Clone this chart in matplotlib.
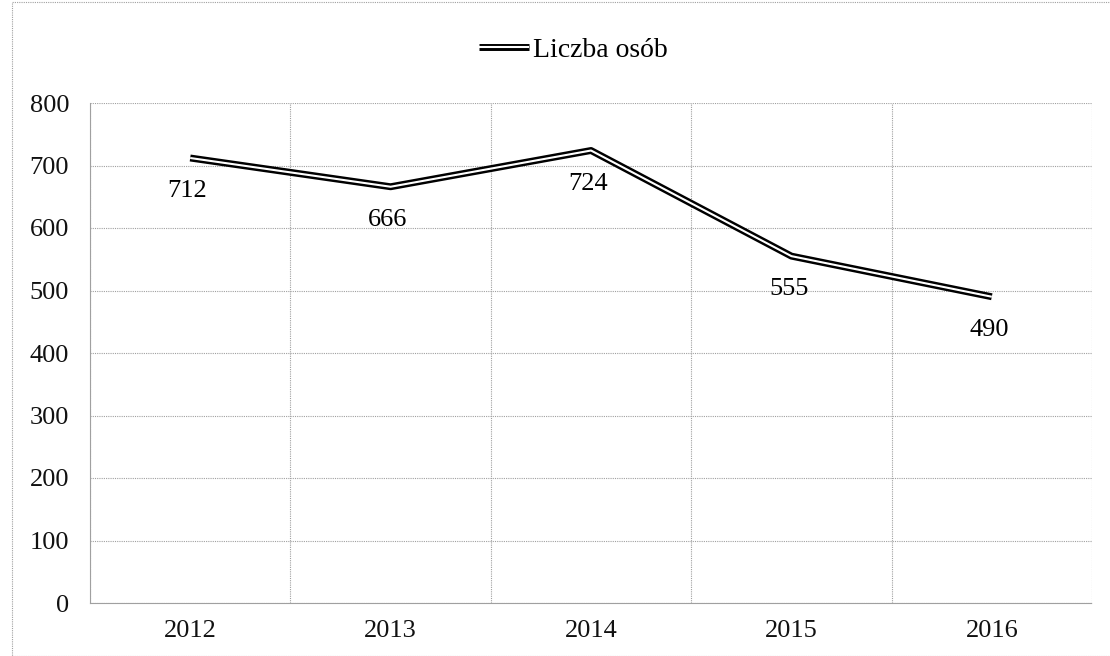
import matplotlib
matplotlib.use("Agg")
import matplotlib.pyplot as plt
import matplotlib.patheffects as pe
from matplotlib.patches import Rectangle

plt.rcParams['font.family'] = ['Liberation Serif', 'DejaVu Serif']

years = ['2012', '2013', '2014', '2015', '2016']
values = [712, 666, 724, 555, 490]
series_name = 'Liczba osób'

fig = plt.figure(figsize=(11.1, 6.56), dpi=100, facecolor='white')
ax = fig.add_axes([90 / 1110, 1 - 603 / 656, 1002 / 1110, 500 / 656])

xs = [i + 0.5 for i in range(len(years))]
# double line: thick black under thin white
line, = ax.plot(xs, values, color='white', lw=1.5, solid_capstyle='butt',
                path_effects=[pe.Stroke(linewidth=5.0, foreground='black'), pe.Normal()],
                label=series_name, zorder=3)

for x, v in zip(xs, values):
    ax.annotate(str(v), (x, v), xytext=(-2, -24), textcoords='offset points',
                ha='center', va='center', fontsize=19)

ax.set_xlim(0, len(years))
ax.set_ylim(0, 800)
ax.set_yticks(range(0, 801, 100))
ax.set_xticks(range(len(years) + 1), minor=False)
ax.set_xticklabels([])
ax.set_xticks(xs, minor=True)
ax.set_xticklabels(years, minor=True)
ax.tick_params(axis='both', which='both', length=0, labelsize=19, colors='#111111')
ax.tick_params(axis='y', pad=15)
ax.tick_params(axis='x', which='minor', pad=12)

ax.grid(True, which='major', color='#a0a0a0', ls=(0, (1, 1)), lw=0.8)
for s in ax.spines.values():
    s.set_visible(False)
for side in ('left', 'bottom'):
    ax.spines[side].set_visible(True)
    ax.spines[side].set_color('#a0a0a0')
    ax.spines[side].set_linestyle((0, (1, 1)))

leg = fig.legend(handles=[line], loc='center', bbox_to_anchor=(573 / 1110, 1 - 50 / 656),
                 frameon=False, fontsize=20, handlelength=1.8, handletextpad=0.15)

fig.patches.append(Rectangle((12 / 1110, 0), 1.5, 1 - 2 / 656, transform=fig.transFigure,
                             fill=False, edgecolor='#a0a0a0', lw=0.8, ls=(0, (1, 1))))

fig.savefig('out.png', dpi=100)
